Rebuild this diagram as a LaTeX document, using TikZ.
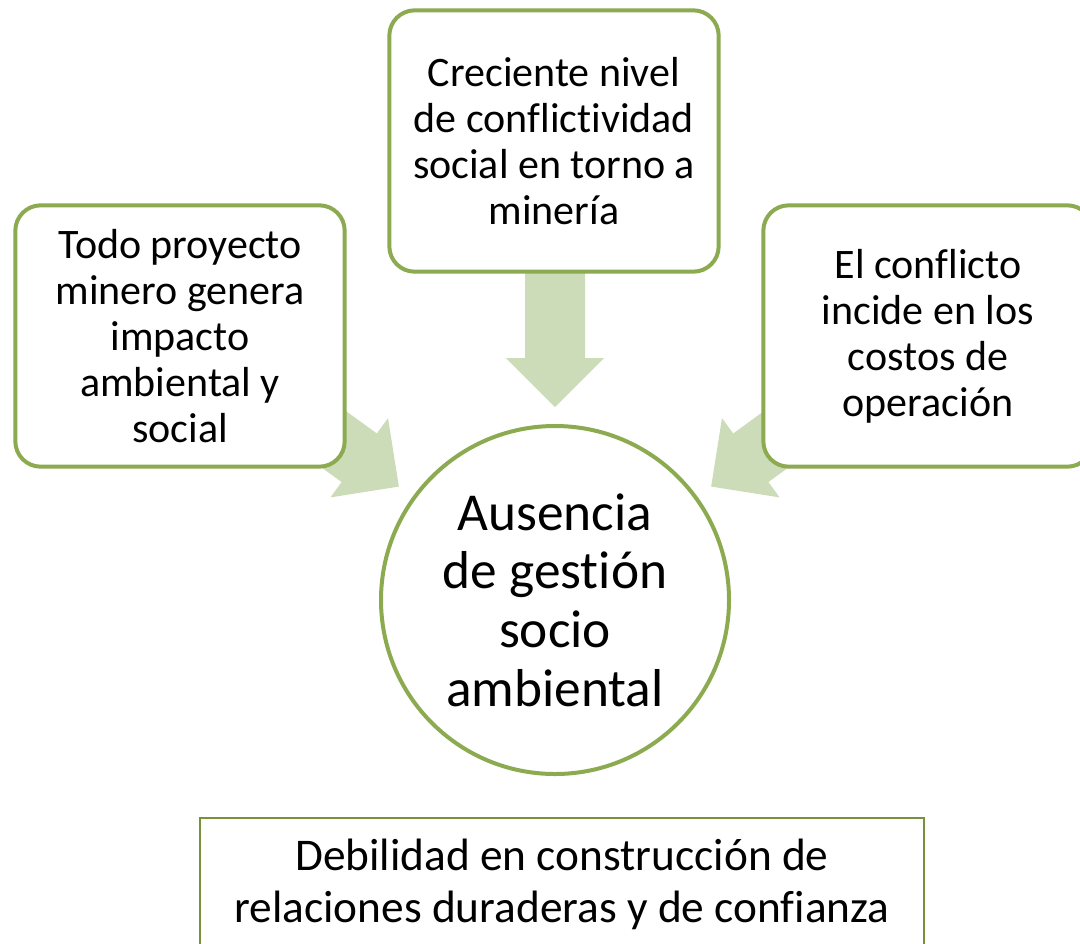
\documentclass[tikz,border=0pt]{standalone}
\usepackage{fontspec}
\setmainfont[Ligatures=NoCommon]{Carlito}
\usetikzlibrary{calc}
\definecolor{boxgreen}{RGB}{140,170,80}
\definecolor{arrgreen}{RGB}{205,220,184}
\definecolor{darkolive}{RGB}{118,146,60}

\begin{document}
\begin{tikzpicture}[x=0.75pt,y=-0.75pt,
  card/.style={draw=boxgreen,line width=3pt,fill=white,rounded corners=19pt,
    minimum width=247pt,minimum height=196pt,inner sep=0pt,align=center,
    font=\fontsize{31.5}{34.5}\selectfont},
  hub/.style={draw=boxgreen,line width=3pt,fill=white,circle,minimum size=261pt,
    inner sep=0pt,align=center,font=\fontsize{40}{44}\selectfont},
  base/.style={draw=darkolive,line width=1.5pt,fill=white,minimum width=543pt,
    minimum height=99pt,inner sep=0pt,align=center,font=\fontsize{34}{39}\selectfont}]
\useasboundingbox (0,0) rectangle (1080,943);
\node[hub] (ctr) at (555,600) {Ausencia\\de gestión\\socio\\ambiental};
\coordinate (tipT) at ([shift={(90:12.75pt)}]ctr.90);
\coordinate (tipL) at ([shift={(144:12.75pt)}]ctr.144);
\coordinate (tipR) at ([shift={(36:12.75pt)}]ctr.36);
\foreach \t/\a in {tipT/-90,tipL/-36,tipR/-144}
  \fill[arrgreen,shift={(\t)},rotate=\a] (0,0) -- (-49,49) -- (-49,30) -- (-165,30)
    -- (-165,-30) -- (-49,-30) -- (-49,-49) -- cycle;
\node[card] (top) at (554,141) {Creciente nivel\\de conflictividad\\social en torno a\\minería};
\node[card] (left) at (180,336) {Todo proyecto\\minero genera\\impacto\\ambiental y\\social};
\node[card] (right) at (928,336) {El conflicto\\incide en los\\costos de\\operación};
\node[base] (weak) at (562,884) {Debilidad en construcción de\\relaciones duraderas y de confianza};
\end{tikzpicture}
\end{document}
